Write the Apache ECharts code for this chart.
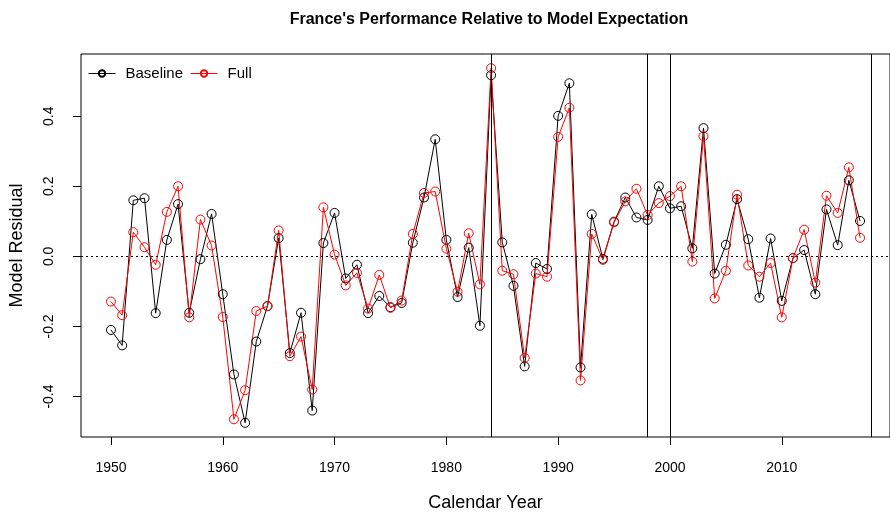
<!DOCTYPE html>
<html>
<head>
<meta charset="utf-8">
<script src="https://cdn.jsdelivr.net/npm/echarts@6/dist/echarts.min.js"></script>
<style>
  html, body { margin: 0; padding: 0; background: #fff; }
  #residuals { width: 890px; height: 517px; }
</style>
</head>
<body>
<div id="residuals"></div>
<script>
// residuals per calendar year, 1950-2017
var years = [];
for (var y = 1950; y <= 2017; y++) years.push(y);

var baseline = [
    -0.210, -0.254, 0.160, 0.166, -0.162, 0.047, 0.149, -0.161, -0.008, 0.121,
    -0.108, -0.337, -0.475, -0.243, -0.142, 0.052, -0.276, -0.161, -0.440, 0.038,
    0.124, -0.063, -0.024, -0.162, -0.113, -0.145, -0.133, 0.039, 0.168, 0.334,
    0.047, -0.116, 0.025, -0.198, 0.517, 0.040, -0.084, -0.314, -0.019, -0.036,
    0.401, 0.494, -0.317, 0.120, -0.007, 0.099, 0.168, 0.111, 0.104, 0.200,
    0.137, 0.143, 0.023, 0.366, -0.049, 0.033, 0.163, 0.049, -0.118, 0.051,
    -0.127, -0.005, 0.018, -0.108, 0.134, 0.032, 0.217, 0.101
];
var full = [
    -0.129, -0.168, 0.069, 0.026, -0.024, 0.127, 0.200, -0.174, 0.105, 0.031,
    -0.173, -0.465, -0.382, -0.156, -0.142, 0.074, -0.285, -0.229, -0.380, 0.140,
    0.005, -0.083, -0.047, -0.149, -0.053, -0.147, -0.126, 0.064, 0.181, 0.185,
    0.022, -0.101, 0.066, -0.080, 0.537, -0.041, -0.051, -0.290, -0.049, -0.058,
    0.341, 0.424, -0.354, 0.064, -0.010, 0.097, 0.157, 0.193, 0.118, 0.152,
    0.172, 0.200, -0.015, 0.343, -0.120, -0.041, 0.176, -0.026, -0.058, -0.019,
    -0.174, -0.005, 0.076, -0.075, 0.173, 0.124, 0.254, 0.053
];

var xTicks = [1950, 1960, 1970, 1980, 1990, 2000, 2010];
var yTicks = [-0.4, -0.2, 0.0, 0.2, 0.4];
var breakYears = [1984, 1998, 2000, 2018];

var font = 'Liberation Sans';

function pairs(vals) {
    return years.map(function (yr, i) { return [yr, vals[i]]; });
}

(function(){
    var chart = echarts.init(document.getElementById('residuals'));

    var vlines = breakYears.map(function (yr) {
        return { xAxis: yr, lineStyle: { type: 'solid' } };
    });
    vlines.push({ yAxis: 0, lineStyle: { type: [2, 3] } });

    var option = {
        animation: false,
        textStyle: { fontFamily: font },
        title: {
            text: "France's Performance Relative to Model Expectation",
            left: 484,
            textAlign: 'center',
            top: 7,
            textStyle: { fontFamily: font, fontSize: 16, fontWeight: 'bold', color: '#000' }
        },
        legend: {
            left: 83,
            top: 61,
            itemWidth: 27,
            itemHeight: 8,
            itemGap: 7,
            lineStyle: { width: 1 },
            textStyle: { fontFamily: font, fontSize: 15, color: '#000', padding: [0, 0, 0, 5] },
            data: ['Baseline', 'Full']
        },
        grid: {
            left: 78,
            top: 54,
            width: 812,
            height: 386,
            show: true,
            borderColor: '#000',
            borderWidth: 1,
            containLabel: false
        },
        xAxis: {
            type: 'value',
            min: 1947.32,
            max: 2019.68,
            name: 'Calendar Year',
            nameLocation: 'middle',
            nameGap: 57,
            nameTextStyle: { fontFamily: font, fontSize: 18, color: '#000' },
            axisLine: { show: false, onZero: false },
            axisTick: { show: true, inside: false, length: 8, customValues: xTicks, lineStyle: { color: '#000' } },
            axisLabel: {
                customValues: xTicks,
                margin: 24,
                fontSize: 14,
                color: '#000',
                fontFamily: font,
                formatter: function (v) { return String(v); }
            },
            splitLine: { show: false }
        },
        yAxis: {
            type: 'value',
            min: -0.5155,
            max: 0.5775,
            name: 'Model Residual',
            nameLocation: 'middle',
            nameRotate: 90,
            nameGap: 55,
            nameTextStyle: { fontFamily: font, fontSize: 18, color: '#000' },
            axisLine: { show: false, onZero: false },
            axisTick: { show: true, inside: false, length: 8, customValues: yTicks, lineStyle: { color: '#000' } },
            axisLabel: {
                customValues: yTicks,
                rotate: 90,
                margin: 25,
                fontSize: 14,
                color: '#000',
                fontFamily: font,
                formatter: function (v) { return v.toFixed(1); }
            },
            splitLine: { show: false }
        },
        series: [
            {
                name: 'Baseline',
                type: 'line',
                data: pairs(baseline),
                symbol: 'circle',
                symbolSize: 9,
                showAllSymbol: true,
                lineStyle: { color: '#000', width: 1 },
                itemStyle: { color: 'rgba(0,0,0,0)', borderColor: '#000', borderWidth: 1 },
                markLine: {
                    silent: true,
                    symbol: ['none', 'none'],
                    label: { show: false },
                    lineStyle: { color: '#000', width: 1 },
                    data: vlines
                }
            },
            {
                name: 'Full',
                type: 'line',
                data: pairs(full),
                symbol: 'circle',
                symbolSize: 9,
                showAllSymbol: true,
                lineStyle: { color: '#ff0000', width: 1 },
                itemStyle: { color: 'rgba(0,0,0,0)', borderColor: '#ff0000', borderWidth: 1 }
            }
        ]
    };

    chart.setOption(option);
})();
</script>
</body>
</html>
